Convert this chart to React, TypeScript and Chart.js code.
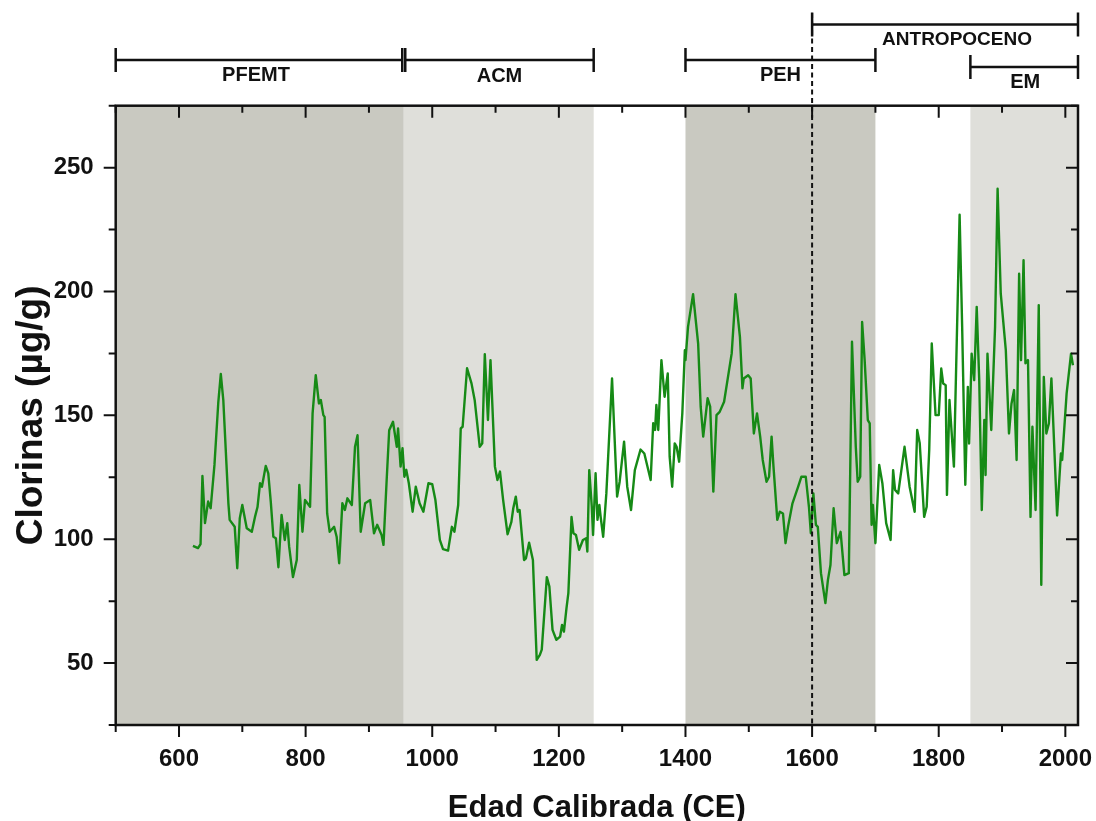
import React, { useEffect, useRef } from 'react';
import { Chart, registerables } from 'chart.js';

Chart.register(...registerables);

// ---- Data ----
const years = [
  622, 630, 634, 637, 641, 646, 650, 656, 662, 666, 670, 675, 678, 680, 688, 692, 696, 700, 707, 715,
  720, 724, 728, 731, 737, 741, 745, 749, 753, 757, 762, 767, 771, 774, 780, 786, 790, 795, 799, 807,
  811, 816, 821, 824, 828, 830, 834, 838, 845, 849, 853, 858, 862, 866, 873, 878, 882, 887, 894, 902,
  908, 913, 920, 923, 928, 932, 938, 944, 946, 950, 953, 956, 959, 963, 969, 974, 980, 986, 994, 1000,
  1005, 1012, 1017, 1025, 1031, 1035, 1041, 1045, 1048, 1055, 1062, 1067, 1075, 1079, 1083, 1088, 1092, 1099, 1103, 1107,
  1112, 1119, 1125, 1128, 1132, 1135, 1138, 1145, 1148, 1153, 1159, 1165, 1170, 1173, 1181, 1185, 1190, 1196, 1202, 1205,
  1208, 1212, 1215, 1220, 1223, 1227, 1232, 1238, 1243, 1245, 1248, 1252, 1254, 1258, 1261, 1264, 1266, 1270, 1275, 1284,
  1292, 1296, 1303, 1308, 1314, 1320, 1329, 1335, 1345, 1349, 1352, 1354, 1357, 1362, 1367, 1372, 1375, 1379, 1383, 1386,
  1390, 1395, 1399, 1400, 1404, 1412, 1420, 1424, 1428, 1435, 1439, 1444, 1449, 1454, 1461, 1473, 1479, 1486, 1490, 1492,
  1499, 1503, 1508, 1513, 1518, 1522, 1528, 1532, 1536, 1539, 1545, 1549, 1554, 1558, 1562, 1569, 1578, 1583, 1590, 1595,
  1598, 1602, 1606, 1609, 1614, 1621, 1625, 1629, 1634, 1639, 1645, 1651, 1658, 1663, 1669, 1672, 1676, 1679, 1683, 1688,
  1691, 1694, 1696, 1700, 1706, 1711, 1717, 1724, 1728, 1731, 1736, 1746, 1754, 1762, 1766, 1770, 1777, 1781, 1785, 1789,
  1795, 1800, 1804, 1807, 1811, 1813, 1817, 1824, 1833, 1837, 1842, 1846, 1848, 1852, 1856, 1860, 1864, 1868, 1872, 1874,
  1877, 1883, 1889, 1893, 1898, 1906, 1911, 1915, 1919, 1923, 1927, 1930, 1934, 1937, 1941, 1945, 1948, 1953, 1958, 1962,
  1966, 1970, 1974, 1978, 1987, 1993, 1995, 2002, 2009, 2012,
];

const clorinas = [
  97.3, 96.4, 98, 125.5, 106.5, 115.2, 112.5, 130, 155, 166.7, 156, 130, 114.5, 107.8, 105, 88.3, 108.5, 113.8, 104.4, 103,
  109, 113, 122.6, 121.2, 129.6, 126.6, 115, 101, 100.4, 88.7, 109.8, 99.7, 106.5, 97, 84.7, 91.6, 121.9, 103, 115.8, 113.1,
  150.8, 166.2, 154.8, 156.2, 150.1, 149.4, 110.4, 103, 105, 101, 90.3, 114.5, 111.8, 116.5, 113.8, 137.3, 142, 103, 114.5, 115.8,
  102.4, 105.8, 101.7, 97.7, 123.9, 144, 147.4, 137.3, 144.7, 129.3, 136.7, 125.2, 128, 122.6, 111.1, 121.2, 114.5, 111.1, 122.6, 122.2,
  115.8, 99.7, 96, 95.4, 105, 103, 113.8, 144.7, 145.4, 169, 162.9, 156.2, 137.3, 138.7, 174.7, 148.1, 172.3, 129.3, 123.9, 127.3,
  115.8, 102, 107, 112.5, 117.2, 111.1, 111.8, 91.6, 92.3, 98.6, 91.6, 51.3, 53.3, 55.4, 84.7, 80.9, 63.4, 59.4, 60.7, 65.4,
  62.7, 72.1, 78.2, 109, 102.4, 101.7, 95.7, 99.7, 100.4, 95, 127.9, 113.1, 101.7, 126.6, 107.8, 113.8, 109, 101, 118.5, 164.9,
  117.2, 123.2, 139.4, 121.2, 111.8, 127.9, 136.2, 134.6, 123.9, 146.8, 144.1, 154.2, 144.1, 172.3, 157.5, 166.9, 133.3, 121.2, 138.7, 137.3,
  131.3, 150.8, 176.3, 172.3, 185.7, 198.9, 179, 153.5, 141.4, 156.9, 153.5, 119.2, 150.1, 151.4, 155.5, 175, 198.9, 181.7, 160.9, 164.9,
  166.2, 164.9, 142.7, 150.8, 141.4, 132, 123.2, 125.2, 141.4, 129.3, 107.8, 111.1, 110.4, 98.4, 105, 114.5, 121.2, 125.2, 125.2, 113.1,
  102.4, 118.5, 105.8, 105, 86.3, 74.2, 83.6, 89.6, 112.5, 98.4, 103, 85.5, 86.3, 179.7, 137.3, 123.2, 125.2, 187.7, 172.3, 148.1,
  146.8, 105.8, 113.8, 98.4, 130, 122.6, 106.5, 99.7, 127.9, 119.9, 118.5, 137.3, 121.2, 111.1, 144.1, 138.7, 109, 113.1, 136, 179,
  150.1, 150.1, 168.9, 162.9, 162.2, 117.9, 156.2, 129.3, 231, 186, 122, 161.5, 138.6, 174.9, 164.2, 193.8, 164.2, 111.8, 148.1, 125.9,
  174.9, 144.1, 185.7, 241.5, 199.1, 176.2, 142.7, 154.8, 160.2, 132, 207.2, 172.3, 212.6, 171, 172.3, 109, 145.4, 111.8, 194.5, 81.6,
  165.5, 142.7, 146.7, 164.9, 109.6, 134.6, 132, 158.8, 174.9, 170.2,
];

const xTickLabels = [600, 800, 1000, 1200, 1400, 1600, 1800, 2000];
const xMinorTicks = [500, 700, 900, 1100, 1300, 1500, 1700, 1900];
const yTickLabels = [50, 100, 150, 200, 250];
const yMinorTicks = [25, 75, 125, 175, 225, 275];

const bandStart = [500, 955, 1400, 1850];
const bandEnd = [955, 1255, 1700, 2020];
const bandColor = ['#c9c9c1', '#dfdfda', '#c9c9c1', '#dfdfda'];

const periodNames = ['PFEMT', 'ACM', 'PEH', 'ANTROPOCENO', 'EM'];
const periodStart = [500, 955, 1400, 1600, 1850];
const periodEnd = [955, 1255, 1700, 2020, 2020];
const periodLineY = [60, 60, 60, 24.5, 67];
const periodLabelY = [81, 82, 81, 45, 88];
const periodLabelShift = [-3, 0, 0, 12, 1];
const periodEdgeShift = [[0, -1.5], [1.5, 0], [0, 0], [0, 0], [0, 0]];

const antropocenoStart = 1600;

const FONT = "'Liberation Sans', Arial, Helvetica, sans-serif";

const decorPlugin = {
  id: 'decor',
  beforeDatasetsDraw(chart: any) {
    const { ctx, chartArea: a, scales } = chart;
    const x = scales.x;
    ctx.save();
    for (let i = 0; i < bandStart.length; i++) {
      const x1 = x.getPixelForValue(bandStart[i]);
      const x2 = x.getPixelForValue(bandEnd[i]);
      ctx.fillStyle = bandColor[i];
      ctx.fillRect(x1, a.top, Math.min(x2, a.right) - x1, a.bottom - a.top);
    }
    ctx.restore();
  },
  afterDatasetsDraw(chart: any) {
    const { ctx, chartArea: a, scales } = chart;
    const x = scales.x;
    const y = scales.y;
    ctx.save();
    ctx.strokeStyle = '#111';
    ctx.lineCap = 'butt';

    // dashed 1600 line
    const xd = x.getPixelForValue(antropocenoStart);
    ctx.lineWidth = 2;
    ctx.setLineDash([5, 3.5]);
    ctx.beginPath();
    ctx.moveTo(xd, 13);
    ctx.lineTo(xd, a.bottom);
    ctx.stroke();
    ctx.setLineDash([]);

    // frame
    ctx.lineWidth = 2.5;
    ctx.strokeRect(a.left, a.top, a.right - a.left, a.bottom - a.top);

    // ticks
    ctx.lineWidth = 2;
    const major = 12;
    const minor = 7;
    const tickX = (v: number, len: number) => {
      const px = x.getPixelForValue(v);
      ctx.beginPath();
      ctx.moveTo(px, a.bottom);
      ctx.lineTo(px, a.bottom + len);
      ctx.moveTo(px, a.top);
      ctx.lineTo(px, a.top + len);
      ctx.stroke();
    };
    const tickY = (v: number, len: number) => {
      const py = y.getPixelForValue(v);
      ctx.beginPath();
      ctx.moveTo(a.left, py);
      ctx.lineTo(a.left - len, py);
      ctx.moveTo(a.right, py);
      ctx.lineTo(a.right - len, py);
      ctx.stroke();
    };
    xTickLabels.forEach((v) => tickX(v, major));
    xMinorTicks.forEach((v) => tickX(v, minor));
    yTickLabels.forEach((v) => tickY(v, major));
    yMinorTicks.forEach((v) => tickY(v, minor));

    // period brackets
    ctx.fillStyle = '#111';
    ctx.textAlign = 'center';
    ctx.textBaseline = 'alphabetic';
    for (let i = 0; i < periodNames.length; i++) {
      const x1 = x.getPixelForValue(periodStart[i]) + periodEdgeShift[i][0];
      const x2 = x.getPixelForValue(periodEnd[i]) + periodEdgeShift[i][1];
      const yl = periodLineY[i];
      ctx.lineWidth = 2.5;
      ctx.beginPath();
      ctx.moveTo(x1, yl);
      ctx.lineTo(x2, yl);
      ctx.stroke();
      ctx.beginPath();
      ctx.moveTo(x1, yl - 12);
      ctx.lineTo(x1, yl + 12);
      ctx.moveTo(x2, yl - 12);
      ctx.lineTo(x2, yl + 12);
      ctx.stroke();
      ctx.font = `bold ${periodNames[i].length > 6 ? 19 : 20}px ${FONT}`;
      ctx.fillText(periodNames[i], (x1 + x2) / 2 + periodLabelShift[i], periodLabelY[i]);
    }

    // axis titles
    ctx.fillStyle = '#111';
    ctx.font = `bold 31px ${FONT}`;
    ctx.textAlign = 'center';
    ctx.textBaseline = 'alphabetic';
    ctx.fillText('Edad Calibrada (CE)', (a.left + a.right) / 2, 817);

    ctx.save();
    ctx.translate(42, (a.top + a.bottom) / 2);
    ctx.rotate(-Math.PI / 2);
    ctx.font = `bold 37px ${FONT}`;
    ctx.fillText('Clorinas (µg/g)', 0, 0);
    ctx.restore();

    ctx.restore();
  },
};

export default function App() {
  const ref = useRef<HTMLCanvasElement | null>(null);

  useEffect(() => {
    if (!ref.current) return;
    const data = years.map((yr, i) => ({ x: yr, y: clorinas[i] }));
    const chart = new Chart(ref.current, {
      type: 'line',
      data: {
        datasets: [
          {
            data,
            borderColor: '#168a16',
            borderWidth: 2.4,
            borderJoinStyle: 'round',
            pointRadius: 0,
            tension: 0,
            fill: false,
          },
        ],
      },
      options: {
        animation: false,
        responsive: false,
        events: [],
        layout: { padding: { top: 105.7, right: 18, left: 0, bottom: 0 } },
        plugins: { legend: { display: false }, tooltip: { enabled: false } },
        scales: {
          x: {
            type: 'linear',
            min: 500,
            max: 2020,
            grid: { display: false, drawTicks: false },
            border: { display: false },
            afterBuildTicks: (s: any) => {
              s.ticks = xTickLabels.map((v) => ({ value: v }));
            },
            afterFit: (s: any) => {
              s.height = 96;
              s.paddingLeft = 0;
              s.paddingRight = 0;
            },
            ticks: {
              padding: 20,
              maxRotation: 0,
              autoSkip: false,
              color: '#111',
              font: { family: FONT, size: 24, weight: 'bold' },
              callback: (v: any) => String(v),
            },
          },
          y: {
            type: 'linear',
            min: 25,
            max: 275,
            grid: { display: false, drawTicks: false },
            border: { display: false },
            afterBuildTicks: (s: any) => {
              s.ticks = yTickLabels.map((v) => ({ value: v }));
            },
            afterFit: (s: any) => {
              s.width = 115.7;
            },
            ticks: {
              padding: 22,
              color: '#111',
              font: { family: FONT, size: 24, weight: 'bold' },
              callback: (v: any) => String(v),
            },
          },
        },
      },
      plugins: [decorPlugin],
    } as any);
    return () => chart.destroy();
  }, []);

  return (
    <div style={{ position: 'absolute', left: 0, top: 0, width: 1096, height: 821, background: '#fff' }}>
      <canvas ref={ref} width={1096} height={821} style={{ width: 1096, height: 821, display: 'block' }} />
    </div>
  );
}
